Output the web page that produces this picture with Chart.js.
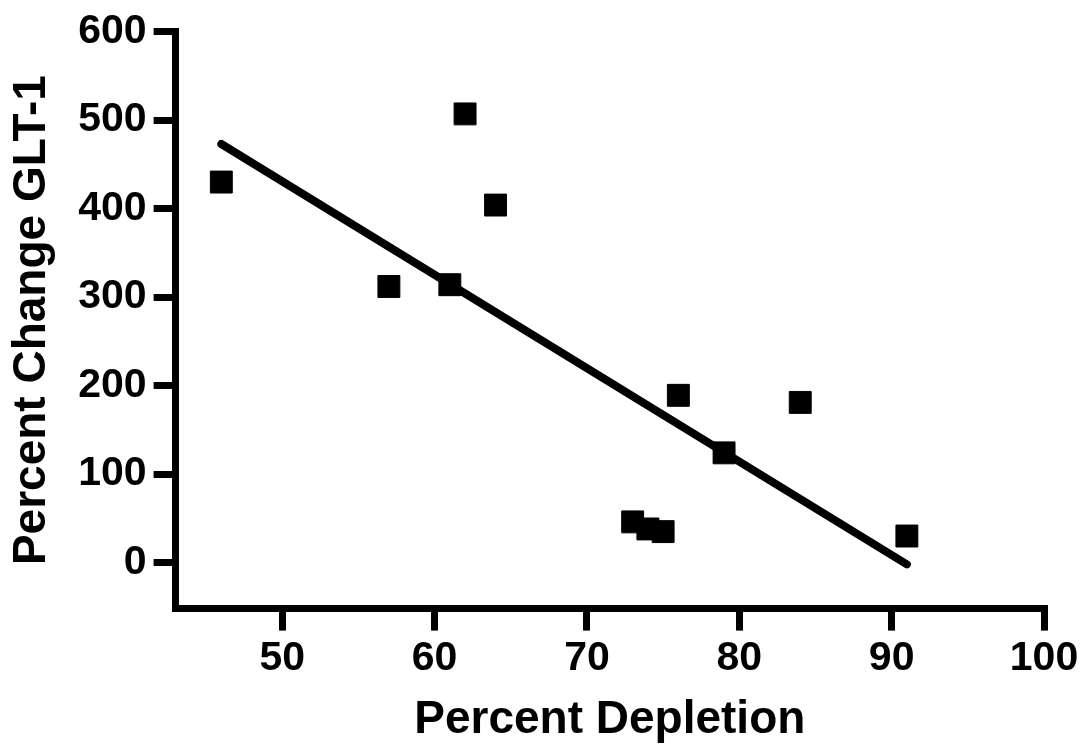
<!DOCTYPE html>
<html>
<head>
<meta charset="utf-8">
<script src="https://cdn.jsdelivr.net/npm/chart.js@4.4.1/dist/chart.umd.min.js"></script>
<style>
  html, body { margin: 0; padding: 0; background: #fff; }
  #wrap { width: 1082px; height: 751px; }
</style>
</head>
<body>
<div id="wrap"><canvas id="glt"></canvas></div>
<script>
  // values
  const depletion = [46, 57, 61, 62, 64, 73, 74, 75, 76, 79, 84, 91];
  const glt1Change = [430, 312, 314, 507, 404, 46, 38, 35, 189, 124, 181, 30];

  // fitted line, end points
  const fitX = [46, 91];
  const fitY = [473, -2];

  const xTicks = [50, 60, 70, 80, 90, 100];
  const yTicks = [0, 100, 200, 300, 400, 500, 600];

  const fontFamily = '"Liberation Sans", Arial, Helvetica, sans-serif';

  const points = depletion.map((x, i) => ({ x: x, y: glt1Change[i] }));
  const fitLine = fitX.map((x, i) => ({ x: x, y: fitY[i] }));

  const dataglt = {
    datasets: [
      {
        type: 'scatter',
        label: 'GLT-1',
        data: points,
        pointStyle: 'rect',
        pointRadius: 15.5,
        backgroundColor: '#000',
        borderColor: '#000',
        borderWidth: 1
      },
      {
        type: 'line',
        label: 'fit',
        data: fitLine,
        borderColor: '#000',
        borderWidth: 8,
        borderCapStyle: 'round',
        pointRadius: 0,
        fill: false
      }
    ]
  };

  const configglt = {
    type: 'scatter',
    data: dataglt,
    options: {
      responsive: true,
      maintainAspectRatio: false,
      animation: false,
      layout: {
        padding: { top: 31, right: 38, bottom: 3, left: 5 }
      },
      plugins: {
        legend: { display: false },
        tooltip: { enabled: false }
      },
      scales: {
        x: {
          type: 'linear',
          min: 43,
          max: 100,
          afterBuildTicks: (axis) => { axis.ticks = xTicks.map(v => ({ value: v })); },
          border: { display: true, color: '#000', width: 7 },
          grid: {
            drawOnChartArea: false,
            drawTicks: true,
            tickLength: 22,
            tickWidth: 7,
            tickColor: '#000',
            lineWidth: 7,
            color: '#000'
          },
          ticks: {
            color: '#000',
            padding: 3,
            maxRotation: 0,
            font: { family: fontFamily, size: 41, weight: 'bold' }
          },
          title: {
            display: true,
            text: 'Percent Depletion',
            color: '#000',
            padding: { top: 7, bottom: 0 },
            font: { family: fontFamily, size: 46, weight: 'bold' }
          }
        },
        y: {
          type: 'linear',
          min: -52,
          max: 600,
          afterBuildTicks: (axis) => { axis.ticks = yTicks.map(v => ({ value: v })); },
          border: { display: true, color: '#000', width: 7 },
          grid: {
            drawOnChartArea: false,
            drawTicks: true,
            tickLength: 22,
            tickWidth: 7,
            tickColor: '#000',
            lineWidth: 7,
            color: '#000'
          },
          ticks: {
            color: '#000',
            padding: 7,
            font: { family: fontFamily, size: 41, weight: 'bold' }
          },
          title: {
            display: true,
            text: 'Percent Change GLT-1',
            color: '#000',
            padding: { top: 0, bottom: 11 },
            font: { family: fontFamily, size: 46, weight: 'bold' }
          }
        }
      }
    }
  };

  const glt = new Chart(
    document.getElementById('glt'),
    configglt
  );
</script>
</body>
</html>
